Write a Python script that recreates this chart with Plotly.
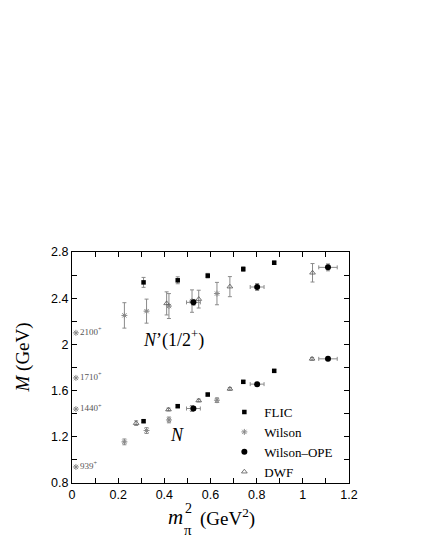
import plotly.graph_objects as go

# ---------------- data ----------------
flic_x = [0.31, 0.458, 0.588, 0.742, 0.876]
flic_n = [1.335, 1.465, 1.566, 1.676, 1.771]
flic_n_err = [0.012, 0.012, 0.012, 0.012, 0.012]
flic_np = [2.537, 2.555, 2.595, 2.652, 2.707]
flic_np_err = [0.043, 0.03, 0.02, 0.02, 0.015]

wil_x = [0.227, 0.323, 0.42, 0.52, 0.628]
wil_xerr = [0.008, 0.008, 0.008, 0.008, 0.008]
wil_n = [1.156, 1.254, 1.346, 1.445, 1.517]
wil_n_err = [0.025, 0.025, 0.025, 0.025, 0.02]
wil_np = [2.251, 2.288, 2.332, 2.375, 2.44]
wil_np_err = [0.11, 0.104, 0.108, 0.097, 0.097]

ope_x = [0.526, 0.802, 1.109]
ope_xerr = [0.03, 0.03, 0.04]
ope_n = [1.445, 1.656, 1.875]
ope_n_err = [0.015, 0.015, 0.015]
ope_np = [2.364, 2.497, 2.667]
ope_np_err = [0.025, 0.03, 0.03]

dwf_n_x = [0.278, 0.418, 0.549, 0.684, 1.04]
dwf_n = [1.318, 1.436, 1.514, 1.615, 1.875]
dwf_n_err = [0.02, 0.012, 0.012, 0.012, 0.012]
dwf_np_x = [0.41, 0.549, 0.684, 1.042]
dwf_np = [2.355, 2.392, 2.5, 2.62]
dwf_np_err = [0.1, 0.077, 0.087, 0.08]

exp_x = [0.017, 0.017, 0.017, 0.017]
exp_m = [0.939, 1.44, 1.71, 2.1]
exp_labels = ["939<sup>+</sup>", "1440<sup>+</sup>", "1710<sup>+</sup>", "2100<sup>+</sup>"]

SERIF = "Liberation Serif, Times New Roman, serif"
SANS = "Liberation Sans, Arial, sans-serif"
GRAY = "#8a8a8a"

fig = go.Figure()

def eb(arr, color=GRAY, width=2):
    return dict(type="data", array=arr, visible=True, color=color, thickness=1, width=width)

# Wilson
fig.add_trace(go.Scatter(
    x=wil_x + wil_x, y=wil_n + wil_np, mode="markers", name="Wilson", legendrank=2,
    marker=dict(symbol="asterisk-open", size=5, color=GRAY, line=dict(color=GRAY, width=1)),
    error_y=eb(wil_n_err + wil_np_err), error_x=eb(wil_xerr + wil_xerr, width=0),
))
# DWF
fig.add_trace(go.Scatter(
    x=dwf_n_x + dwf_np_x, y=dwf_n + dwf_np, mode="markers", name="DWF", legendrank=4,
    marker=dict(symbol="triangle-up-open", size=5, color="#555555", line=dict(color="#555555", width=0.8)),
    error_y=eb(dwf_n_err + dwf_np_err),
))
# FLIC
fig.add_trace(go.Scatter(
    x=flic_x + flic_x, y=flic_n + flic_np, mode="markers", name="FLIC", legendrank=1,
    marker=dict(symbol="square", size=4.5, color="black"),
    error_y=eb(flic_n_err + flic_np_err),
))
# Wilson-OPE
fig.add_trace(go.Scatter(
    x=ope_x + ope_x, y=ope_n + ope_np, mode="markers", name="Wilson–OPE", legendrank=3,
    marker=dict(symbol="circle", size=6, color="black"),
    error_y=eb(ope_n_err + ope_np_err), error_x=eb(ope_xerr + ope_xerr),
))
# experimental values
fig.add_trace(go.Scatter(
    x=exp_x, y=exp_m, mode="markers+text", showlegend=False,
    text=exp_labels, textposition="middle right",
    textfont=dict(family=SERIF, size=9, color="#555555"),
    marker=dict(symbol="asterisk-open", size=5, color=GRAY, line=dict(color=GRAY, width=1)),
))

axis_common = dict(
    showline=True, linecolor="black", linewidth=1.3, mirror="ticks",
    ticks="inside", ticklen=5, tickwidth=1, tickcolor="black",
    showgrid=False, zeroline=False,
    tickfont=dict(family=SANS, size=12.5, color="black"),
)

fig.update_xaxes(range=[0, 1.2], tick0=0, dtick=0.2,
                 minor=dict(dtick=0.1, ticks="inside", ticklen=5, tickcolor="black", showgrid=False),
                 **axis_common)
fig.update_yaxes(range=[0.8, 2.8], tick0=0.8, dtick=0.4,
                 minor=dict(dtick=0.2, ticks="inside", ticklen=5, tickcolor="black", showgrid=False),
                 **axis_common)

ann = [
    dict(x=0.438, y=2.05, xref="x", yref="y", text="<i>N</i>’(1/2<sup>+</sup>)",
         font=dict(family=SERIF, size=18, color="black")),
    dict(x=0.454, y=1.214, xref="x", yref="y", text="<i>N</i>",
         font=dict(family=SERIF, size=18, color="black")),
    # x-axis title pieces
    dict(x=0.3724, y=-0.1487, xref="paper", yref="paper", text="<i>m</i>",
         font=dict(family=SERIF, size=21, color="black")),
    dict(x=0.420, y=-0.112, xref="paper", yref="paper", text="2",
         font=dict(family=SERIF, size=14, color="black")),
    dict(x=0.420, y=-0.205, xref="paper", yref="paper", text="π",
         font=dict(family=SERIF, size=15, color="black")),
    dict(x=0.562, y=-0.1487, xref="paper", yref="paper", text="(GeV<sup>2</sup>)",
         font=dict(family=SERIF, size=19, color="black")),
    # y-axis title
    dict(x=-0.1754, y=0.545, xref="paper", yref="paper", text="<i>M</i> (GeV)", textangle=-90,
         font=dict(family=SERIF, size=19, color="black")),
]
for a in ann:
    a.update(showarrow=False, xanchor="center", yanchor="middle")

fig.update_layout(
    width=421, height=545,
    margin=dict(l=64, r=80, t=244, b=70),
    paper_bgcolor="white", plot_bgcolor="white",
    showlegend=True,
    legend=dict(x=0.55, y=0.372, xanchor="left", yanchor="top",
                bgcolor="rgba(0,0,0,0)", borderwidth=0,
                font=dict(family=SERIF, size=13, color="black"),
                itemwidth=30, tracegroupgap=0),
    annotations=ann,
)

fig.write_html("out.html")
